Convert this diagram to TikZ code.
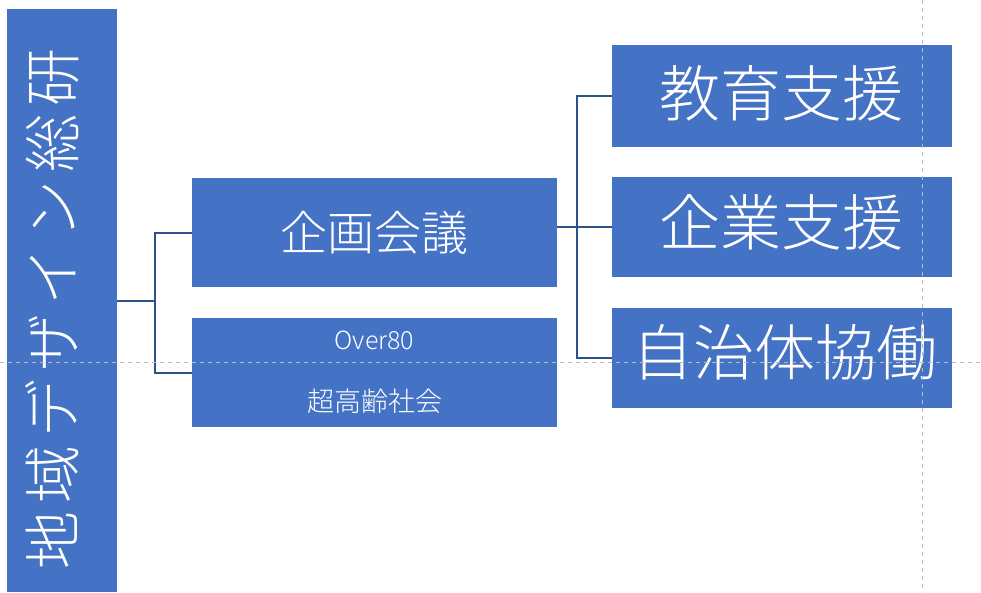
\documentclass[tikz,border=0pt]{standalone}
\usepackage{fontspec}
\newfontfamily\jp{Noto Sans CJK JP Light}
\definecolor{boxblue}{HTML}{4472C4}
\definecolor{linkblue}{HTML}{2F528F}
\definecolor{guidegray}{HTML}{BBBBBB}
\begin{document}
\begin{tikzpicture}[x=1pt,y=-1pt,
  box/.style={rectangle, fill=boxblue, draw=none, inner sep=0pt, text=white, font=\jp},
  lbl/.style={text=white, inner sep=0pt},
  link/.style={draw=linkblue, line width=2pt},
  guide/.style={draw=guidegray, line width=0.9pt, dash pattern=on 4pt off 4pt}]
\useasboundingbox (0,0) rectangle (981,592);
\fill[white] (0,0) rectangle (981,592);
% root bar
\node[box, minimum width=110pt, minimum height=583pt] (root) at (62,300.5) {};
\node[lbl, rotate=90, font={\jp\fontsize{58}{60}\selectfont\addfontfeatures{LetterSpace=14}}] (roottext) at (52,309) {地域デザイン総研};
% second level
\node[box, minimum width=365pt, minimum height=109pt, font={\jp\fontsize{47}{50}\selectfont}] (plan) at (374.5,232.5) {企画会議};
\node[box, minimum width=365pt, minimum height=109pt] (over) at (374.5,372.5) {};
\node[lbl, font={\jp\fontsize{25}{27}\selectfont}] (overa) at (374.5,340) {Over80};
\node[lbl, font={\jp\fontsize{27}{29}\selectfont}] (overb) at (374.5,401) {超高齢社会};
% third level
\node[box, minimum width=340pt, minimum height=102pt, font={\jp\fontsize{61}{64}\selectfont}] (edu) at (782,96) {};
\node[lbl, font={\jp\fontsize{61}{64}\selectfont}] (edutext) at (781,93) {教育支援};
\node[box, minimum width=340pt, minimum height=100pt, font={\jp\fontsize{61}{64}\selectfont}] (ent) at (782,227) {};
\node[lbl, font={\jp\fontsize{61}{64}\selectfont}] (enttext) at (781,222) {企業支援};
\node[box, minimum width=340pt, minimum height=100pt] (jichi) at (782,358) {};
\node[lbl, font={\jp\fontsize{61}{64}\selectfont}] (jichitext) at (785,352) {自治体協働};
% connectors
\coordinate (j1) at (155,300.5);
\coordinate (j2) at (577,227);
\draw[link] (root.east) -- (j1);
\draw[link] (plan.west) -| (j1) |- (over.west);
\draw[link] (plan.east |- j2) -- (j2);
\draw[link] (edu.west) -| (j2) |- (jichi.west);
\draw[link] (j2) -- (ent.west);
% guides
\draw[guide] (922,0) -- (922,592);
\draw[guide] (0,362) -- (981,362);
\end{tikzpicture}
\end{document}
